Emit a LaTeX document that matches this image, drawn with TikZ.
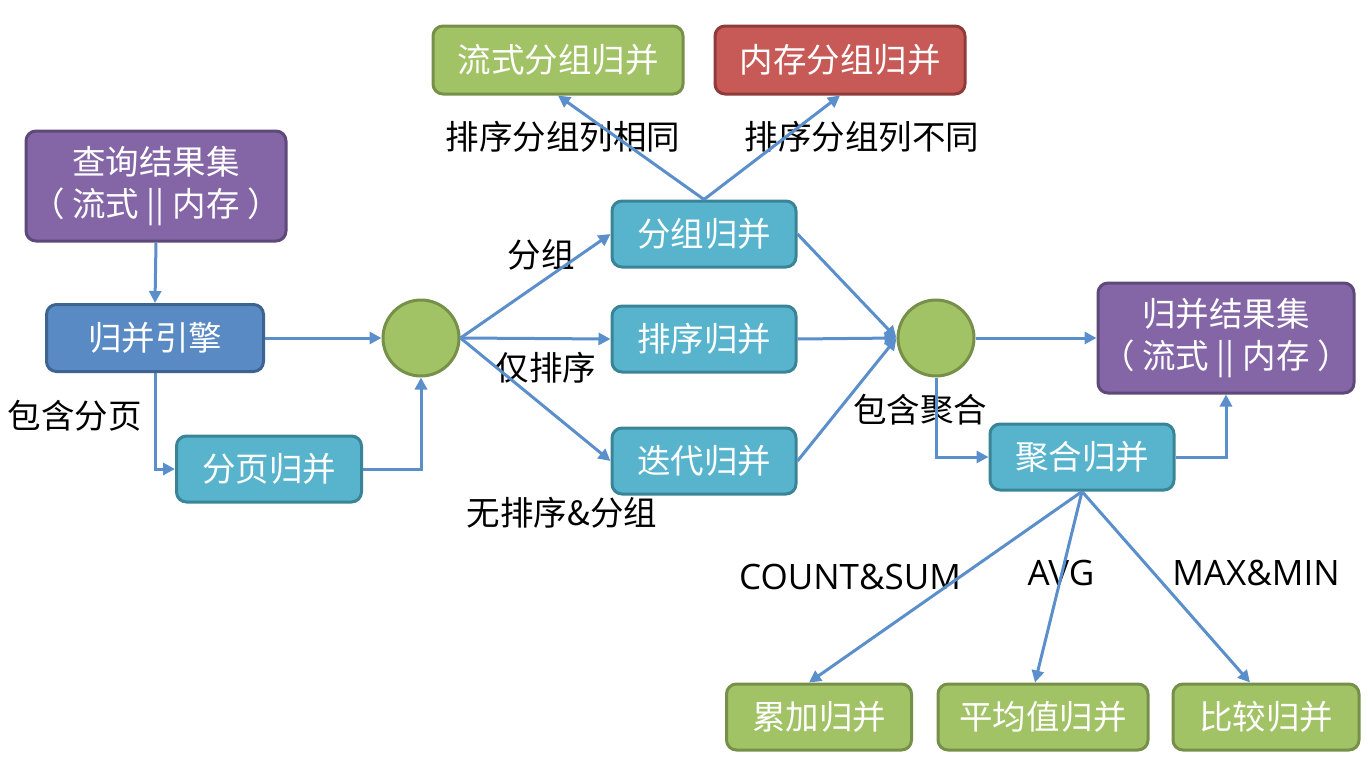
\documentclass[tikz,border=0pt]{standalone}
\usepackage{fontspec}
\setmainfont{Noto Sans CJK SC}
\newfontfamily\latinfont{Open Sans}
\usetikzlibrary{arrows.meta}
\definecolor{purpF}{HTML}{8466A6}
\definecolor{purpD}{HTML}{5E4A7A}
\definecolor{blueF}{HTML}{5A8AC4}
\definecolor{blueD}{HTML}{3D6491}
\definecolor{aquaF}{HTML}{58B4CC}
\definecolor{aquaD}{HTML}{3A8498}
\definecolor{grnF}{HTML}{A2C266}
\definecolor{grnD}{HTML}{76904A}
\definecolor{redF}{HTML}{C75A57}
\definecolor{redD}{HTML}{8F3B39}
\definecolor{arr}{HTML}{5B8FCB}
\tikzset{
  box/.style={draw, line width=3pt, rounded corners=10pt, text=white, align=center,
    font=\fontsize{33.5}{42}\selectfont, inner sep=0pt},
  purpbox/.style={box, fill=purpF, draw=purpD, minimum width=260pt, minimum height=110pt},
  bluebox/.style={box, fill=blueF, draw=blueD, minimum width=217pt, minimum height=67pt},
  aquabox/.style={box, fill=aquaF, draw=aquaD, minimum width=184pt, minimum height=66pt},
  grnbox/.style={box, fill=grnF, draw=grnD, minimum height=66pt},
  redbox/.style={box, fill=redF, draw=redD, minimum height=68pt},
  dot/.style={circle, fill=grnF, draw=grnD, line width=3pt, minimum size=76pt, inner sep=0pt},
  conn/.style={draw=arr, line width=3pt, -{Triangle[length=12pt,width=12pt]}},
  lbl/.style={font=\fontsize{33.5}{36}\selectfont, text=black, inner sep=0pt},
  latlbl/.style={font=\latinfont\fontsize{35}{38}\selectfont, text=black, inner sep=0pt}
}
\begin{document}
\begin{tikzpicture}[x=1pt,y=-1pt]
\useasboundingbox (0,0) rectangle (1368,774);
% nodes
\node[purpbox] (q) at (156,186) {查询结果集\\（ 流式 || 内存 ）};
\node[bluebox] (eng) at (155,338) {归并引擎};
\node[aquabox, minimum width=185pt] (page) at (269,469) {分页归并};
\node[dot] (c1) at (421,338) {};
\node[grnbox, minimum width=250pt, minimum height=68pt] (stream) at (558,60) {流式分组归并};
\node[redbox, minimum width=250pt] (mem) at (840,60) {内存分组归并};
\node[aquabox] (grp) at (704,234) {分组归并};
\node[aquabox] (sort) at (704,339) {排序归并};
\node[aquabox] (iter) at (704,461) {迭代归并};
\node[dot] (c2) at (936,338) {};
\node[purpbox, minimum width=256pt] (res) at (1226,338) {归并结果集\\（ 流式 || 内存 ）};
\node[aquabox] (agg) at (1082,457) {聚合归并};
\node[grnbox, minimum width=185pt] (acc) at (819,717) {累加归并};
\node[grnbox, minimum width=210pt] (avg) at (1043,717) {平均值归并};
\node[grnbox, minimum width=186pt] (cmp) at (1266,717) {比较归并};
% labels
\node[lbl] (l1) at (75,416) {包含分页};
\node[lbl] (l2) at (541,255) {分组};
\node[lbl] (l3) at (546,368) {仅排序};
\node[lbl] (l4) at (562,513) {无排序\&分组};
\node[lbl] (l5) at (563,137) {排序分组列相同};
\node[lbl] (l6) at (862,137) {排序分组列不同};
\node[lbl] (l7) at (920,410) {包含聚合};
\node[latlbl] (l8) at (850,577) {COUNT\&SUM};
\node[latlbl] (l9) at (1061,573) {AVG};
\node[latlbl] (l10) at (1256,573) {MAX\&MIN};
% connectors
\coordinate (gtop) at (grp.north);
\draw[conn] (q.south) -- (eng.north);
\draw[conn] (eng.east) -- (c1.west);
\draw[conn] (eng.south) |- (page.west);
\draw[conn] (page.east) -| (c1.south);
\draw[conn] (c1.east) -- (grp.west);
\draw[conn] (c1.east) -- (sort.west);
\draw[conn] (c1.east) -- (iter.west);
\draw[conn] (gtop) -- (stream.south);
\draw[conn] (gtop) -- (mem.south);
\draw[conn] (grp.east) -- (c2.west);
\draw[conn] (sort.east) -- (c2.west);
\draw[conn] (iter.east) -- (c2.west);
\draw[conn] (c2.east) -- (res.west);
\draw[conn] (c2.south) |- (agg.west);
\draw[conn] (agg.east) -| (res.south);
\coordinate (abot) at (agg.south);
\draw[conn] (abot) -- ([xshift=-10pt]acc.north);
\draw[conn] (abot) -- ([xshift=-8pt]avg.north);
\draw[conn] (abot) -- ([xshift=-16pt]cmp.north);
\end{tikzpicture}
\end{document}
